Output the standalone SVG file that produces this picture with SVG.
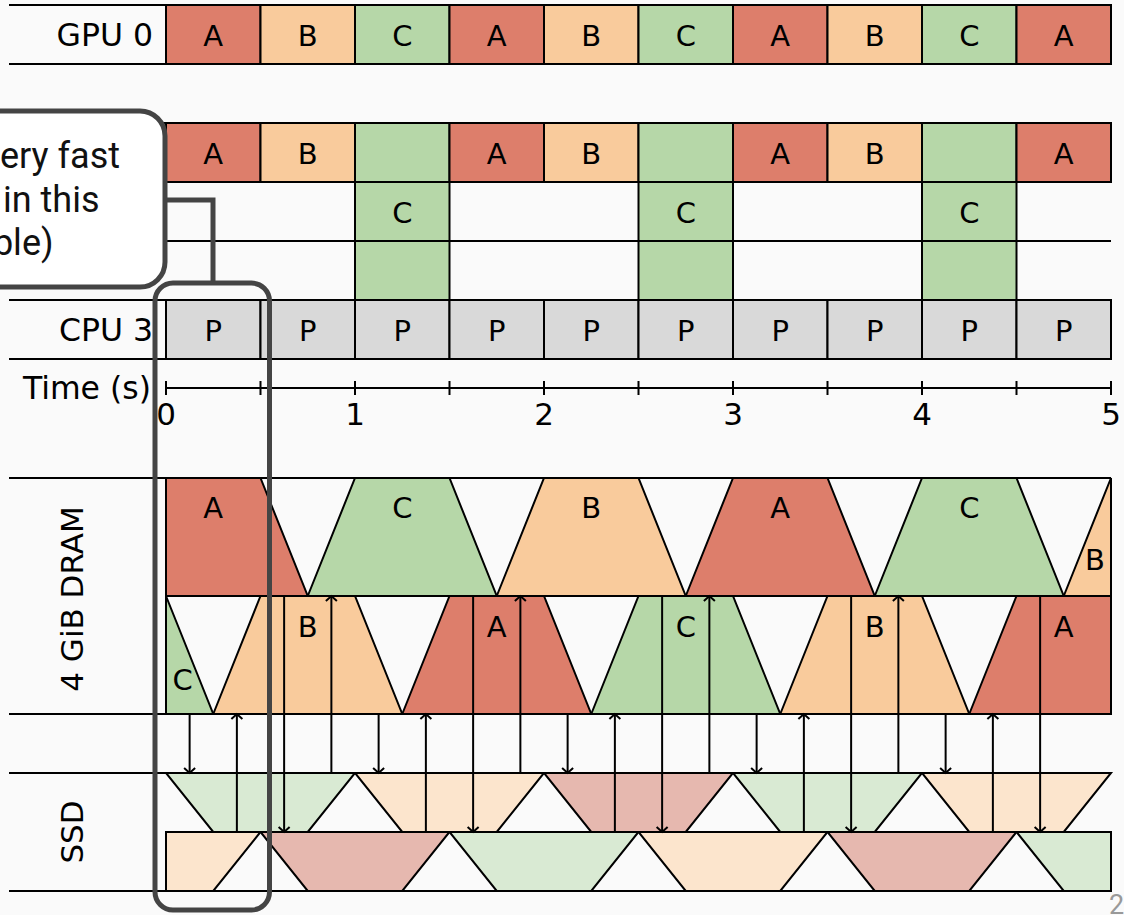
<svg xmlns="http://www.w3.org/2000/svg" width="1124" height="915" viewBox="0 0 1124 915">
<style>
.a{fill:#dd7e6b}.b{fill:#f9cb9c}.c{fill:#b6d7a8}.p{fill:#d9d9d9}
.la{fill:#e6b8af}.lb{fill:#fce5cd}.lc{fill:#d9ead3}
.cell rect,.cell polygon{stroke:#000;stroke-width:2;stroke-linejoin:miter}
.ln{stroke:#000;stroke-width:2;fill:none}
.t{font-family:"DejaVu Sans",Verdana,sans-serif;font-size:29px;fill:#000;text-anchor:middle}
.lab{font-family:"DejaVu Sans",Verdana,sans-serif;font-size:31.5px;fill:#000;text-anchor:end}
.ax{font-family:"DejaVu Sans",Verdana,sans-serif;font-size:31px;fill:#000;text-anchor:middle}
.vl{font-family:"DejaVu Sans",Verdana,sans-serif;font-size:31px;fill:#000;text-anchor:middle}
.arr{stroke:#000;stroke-width:2;fill:none;marker-end:url(#ah)}
.hl{fill:none;stroke:#444;stroke-width:5}
.co{font-family:Roboto,"Noto Sans",sans-serif;font-size:36px;fill:#111;text-anchor:end}
</style>
<defs>
<marker id="ah" viewBox="-7 -7 14 14" refX="0" refY="0" markerWidth="14" markerHeight="14" markerUnits="userSpaceOnUse" orient="auto">
<path d="M-5,-5.5 L0,0 L-5,5.5" fill="none" stroke="#000" stroke-width="2"/>
</marker>
</defs>
<rect x="0" y="0" width="1124" height="915" fill="#fafafa"/>

<g id="gpu0" class="cell">
<rect class="a" x="166" y="5" width="94.5" height="59"/>
<rect class="b" x="260.5" y="5" width="94.5" height="59"/>
<rect class="c" x="355" y="5" width="94.5" height="59"/>
<rect class="a" x="449.5" y="5" width="94.5" height="59"/>
<rect class="b" x="544" y="5" width="94.5" height="59"/>
<rect class="c" x="638.5" y="5" width="94.5" height="59"/>
<rect class="a" x="733" y="5" width="94.5" height="59"/>
<rect class="b" x="827.5" y="5" width="94.5" height="59"/>
<rect class="c" x="922" y="5" width="94.5" height="59"/>
<rect class="a" x="1016.5" y="5" width="94.5" height="59"/>
<text class="lab" x="153" y="46">GPU 0</text>
<text class="t" x="213.25" y="46">A</text><text class="t" x="307.75" y="46">B</text><text class="t" x="402.25" y="46">C</text>
<text class="t" x="496.75" y="46">A</text><text class="t" x="591.25" y="46">B</text><text class="t" x="685.75" y="46">C</text>
<text class="t" x="780.25" y="46">A</text><text class="t" x="874.75" y="46">B</text><text class="t" x="969.25" y="46">C</text>
<text class="t" x="1063.75" y="46">A</text>
</g>

<g id="gpu-split" class="cell">
<rect class="a" x="166" y="123" width="94.5" height="59"/>
<rect class="b" x="260.5" y="123" width="94.5" height="59"/>
<rect class="c" x="355" y="123" width="94.5" height="59"/>
<rect class="a" x="449.5" y="123" width="94.5" height="59"/>
<rect class="b" x="544" y="123" width="94.5" height="59"/>
<rect class="c" x="638.5" y="123" width="94.5" height="59"/>
<rect class="a" x="733" y="123" width="94.5" height="59"/>
<rect class="b" x="827.5" y="123" width="94.5" height="59"/>
<rect class="c" x="922" y="123" width="94.5" height="59"/>
<rect class="a" x="1016.5" y="123" width="94.5" height="59"/>
<rect class="c" x="355" y="182" width="94.5" height="59"/>
<rect class="c" x="638.5" y="182" width="94.5" height="59"/>
<rect class="c" x="922" y="182" width="94.5" height="59"/>
<rect class="c" x="355" y="241" width="94.5" height="59"/>
<rect class="c" x="638.5" y="241" width="94.5" height="59"/>
<rect class="c" x="922" y="241" width="94.5" height="59"/>
<text class="t" x="213.25" y="164">A</text><text class="t" x="307.75" y="164">B</text>
<text class="t" x="496.75" y="164">A</text><text class="t" x="591.25" y="164">B</text>
<text class="t" x="780.25" y="164">A</text><text class="t" x="874.75" y="164">B</text>
<text class="t" x="1063.75" y="164">A</text>
<text class="t" x="402.25" y="223">C</text><text class="t" x="685.75" y="223">C</text><text class="t" x="969.25" y="223">C</text>
</g>

<g id="cpu3" class="cell">
<rect class="p" x="166" y="300" width="94.5" height="59"/>
<rect class="p" x="260.5" y="300" width="94.5" height="59"/>
<rect class="p" x="355" y="300" width="94.5" height="59"/>
<rect class="p" x="449.5" y="300" width="94.5" height="59"/>
<rect class="p" x="544" y="300" width="94.5" height="59"/>
<rect class="p" x="638.5" y="300" width="94.5" height="59"/>
<rect class="p" x="733" y="300" width="94.5" height="59"/>
<rect class="p" x="827.5" y="300" width="94.5" height="59"/>
<rect class="p" x="922" y="300" width="94.5" height="59"/>
<rect class="p" x="1016.5" y="300" width="94.5" height="59"/>
<text class="lab" x="153" y="341">CPU 3</text>
<text class="t" x="213.25" y="341">P</text><text class="t" x="307.75" y="341">P</text><text class="t" x="402.25" y="341">P</text>
<text class="t" x="496.75" y="341">P</text><text class="t" x="591.25" y="341">P</text><text class="t" x="685.75" y="341">P</text>
<text class="t" x="780.25" y="341">P</text><text class="t" x="874.75" y="341">P</text><text class="t" x="969.25" y="341">P</text>
<text class="t" x="1063.75" y="341">P</text>
</g>

<g id="rows-lines">
<path class="ln" d="M9,5H1111M9,64H1111M9,123H1111M9,182H1111M9,241H1111M9,300H1111M9,359H1111"/>
</g>

<g id="time-axis">
<path class="ln" d="M166,388H1111M166,381V395M260.5,381V395M355,381V395M449.5,381V395M544,381V395M638.5,381V395M733,381V395M827.5,381V395M922,381V395M1016.5,381V395M1111,381V395"/>
<text class="lab" x="151" y="399">Time (s)</text>
<text class="ax" x="166" y="425">0</text><text class="ax" x="355" y="425">1</text><text class="ax" x="544" y="425">2</text>
<text class="ax" x="733" y="425">3</text><text class="ax" x="922" y="425">4</text><text class="ax" x="1111" y="425">5</text>
</g>

<g id="dram" class="cell">
<polygon class="a" points="166,478 260.5,478 307.75,596 166,596"/>
<polygon class="c" points="307.75,596 355,478 449.5,478 496.75,596"/>
<polygon class="b" points="496.75,596 544,478 638.5,478 685.75,596"/>
<polygon class="a" points="685.75,596 733,478 827.5,478 874.75,596"/>
<polygon class="c" points="874.75,596 922,478 1016.5,478 1063.75,596"/>
<polygon class="b" points="1063.75,596 1111,478 1111,596"/>
<polygon class="c" points="166,596 213.25,714 166,714"/>
<polygon class="b" points="213.25,714 260.5,596 355,596 402.25,714"/>
<polygon class="a" points="402.25,714 449.5,596 544,596 591.25,714"/>
<polygon class="c" points="591.25,714 638.5,596 733,596 780.25,714"/>
<polygon class="b" points="780.25,714 827.5,596 922,596 969.25,714"/>
<polygon class="a" points="969.25,714 1016.5,596 1111,596 1111,714"/>
<path class="ln" d="M9,478H1111M166,596H1111M9,714H1111"/>
<text class="t" x="213.25" y="518">A</text><text class="t" x="402.25" y="518">C</text><text class="t" x="591.25" y="518">B</text>
<text class="t" x="780.25" y="518">A</text><text class="t" x="969.25" y="518">C</text><text class="t" x="1095" y="570">B</text>
<text class="t" x="182.5" y="690">C</text>
<text class="t" x="307.75" y="637">B</text><text class="t" x="496.75" y="637">A</text><text class="t" x="685.75" y="637">C</text>
<text class="t" x="874.75" y="637">B</text><text class="t" x="1063.75" y="637">A</text>
<text class="vl" transform="translate(83,599) rotate(-90)">4 GiB DRAM</text>
</g>

<g id="ssd" class="cell">
<polygon class="lc" points="166,773 355,773 307.75,832 213.25,832"/>
<polygon class="lb" points="355,773 544,773 496.75,832 402.25,832"/>
<polygon class="la" points="544,773 733,773 685.75,832 591.25,832"/>
<polygon class="lc" points="733,773 922,773 874.75,832 780.25,832"/>
<polygon class="lb" points="922,773 1111,773 1063.75,832 969.25,832"/>
<polygon class="lb" points="166,832 260.5,832 213.25,891 166,891"/>
<polygon class="la" points="260.5,832 449.5,832 402.25,891 307.75,891"/>
<polygon class="lc" points="449.5,832 638.5,832 591.25,891 496.75,891"/>
<polygon class="lb" points="638.5,832 827.5,832 780.25,891 685.75,891"/>
<polygon class="la" points="827.5,832 1016.5,832 969.25,891 874.75,891"/>
<polygon class="lc" points="1016.5,832 1111,832 1111,891 1063.75,891"/>
<path class="ln" d="M9,773H1111M166,832H1111M9,891H1111"/>
<text class="vl" transform="translate(83,832) rotate(-90)">SSD</text>
</g>

<g id="connectors">
<line class="arr" x1="189.625" y1="714" x2="189.625" y2="773"/>
<line class="arr" x1="236.875" y1="832" x2="236.875" y2="714"/>
<line class="arr" x1="284.125" y1="596" x2="284.125" y2="832"/>
<line class="arr" x1="331.375" y1="773" x2="331.375" y2="596"/>
<line class="arr" x1="378.625" y1="714" x2="378.625" y2="773"/>
<line class="arr" x1="425.875" y1="832" x2="425.875" y2="714"/>
<line class="arr" x1="473.125" y1="596" x2="473.125" y2="832"/>
<line class="arr" x1="520.375" y1="773" x2="520.375" y2="596"/>
<line class="arr" x1="567.625" y1="714" x2="567.625" y2="773"/>
<line class="arr" x1="614.875" y1="832" x2="614.875" y2="714"/>
<line class="arr" x1="662.125" y1="596" x2="662.125" y2="832"/>
<line class="arr" x1="709.375" y1="773" x2="709.375" y2="596"/>
<line class="arr" x1="756.625" y1="714" x2="756.625" y2="773"/>
<line class="arr" x1="803.875" y1="832" x2="803.875" y2="714"/>
<line class="arr" x1="851.125" y1="596" x2="851.125" y2="832"/>
<line class="arr" x1="898.375" y1="773" x2="898.375" y2="596"/>
<line class="arr" x1="945.625" y1="714" x2="945.625" y2="773"/>
<line class="arr" x1="992.875" y1="832" x2="992.875" y2="714"/>
<line class="arr" x1="1040.125" y1="596" x2="1040.125" y2="832"/>
<path class="hl" d="M165,200H213V283"/>
</g>

<g id="highlight">
<rect class="hl" x="155" y="283" width="114.5" height="627" rx="18"/>
</g>

<g id="callout">
<rect x="-40" y="111" width="205" height="176" rx="25" fill="#fff" stroke="#444" stroke-width="5"/>
<text class="co" x="120" y="168">ery fast</text>
<text class="co" x="99.5" y="212">in this</text>
<text class="co" x="53.5" y="255">ble)</text>
</g>

<text x="1109" y="914" font-family="Roboto,'Noto Sans',sans-serif" font-size="27" fill="#999">2</text>
</svg>
